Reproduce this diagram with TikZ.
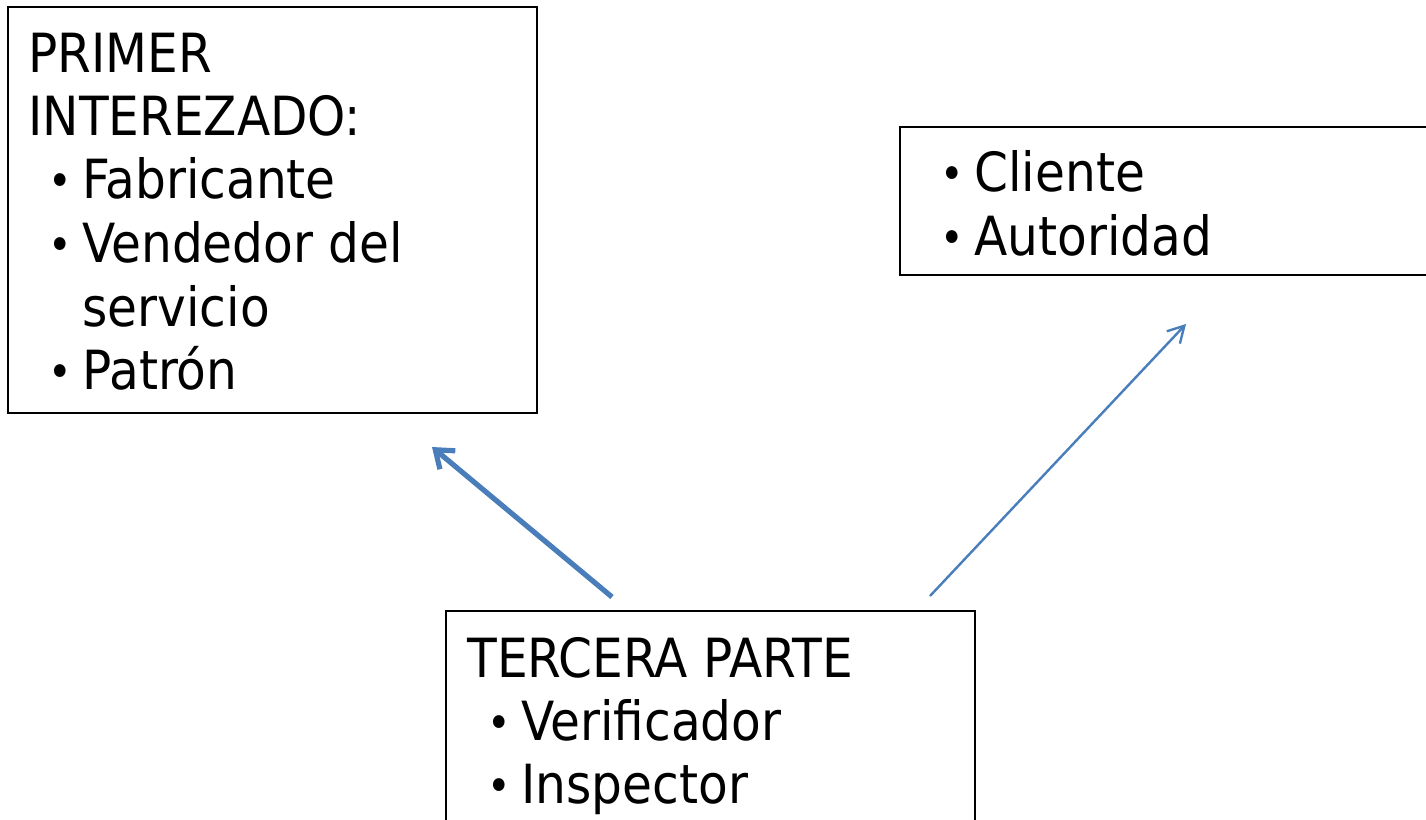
\documentclass[tikz,border=0pt]{standalone}
\usepackage{fontspec}
\usepackage{graphicx}
\setmainfont{DejaVu Sans Condensed}
\usetikzlibrary{arrows.meta}
\definecolor{arrowblue}{HTML}{4A7EBB}
\tikzset{
  box/.style={draw=black, line width=0.6pt, fill=none},
  txt/.style={anchor=base west, inner sep=0pt, font=\fontsize{27pt}{32pt}\selectfont},
  bigarrow/.style={draw=arrowblue, line width=2.6pt, -{Straight Barb[length=8pt,width=12pt]}},
  thinarrow/.style={draw=arrowblue, line width=1.2pt, -{Straight Barb[length=8pt,width=9pt]}}
}
\newcommand{\bl}{\makebox[17pt][l]{\raisebox{1pt}{\scalebox{0.82}{•}}}}
\begin{document}
\begin{tikzpicture}[x=0.5pt,y=-0.5pt]
\useasboundingbox (0,0) rectangle (1426,820);
\clip (0,0) rectangle (1426,820);
% boxes
\draw[box] (8,7) rectangle (537,413);
\node[inner sep=0pt] (b1) at (272.5,210) {};
\draw[box] (900,127) rectangle (1440,275);
\node[inner sep=0pt] (b2) at (1160,201) {};
\draw[box] (446,611) rectangle (975,840);
\node[inner sep=0pt] (b3) at (710,720) {};
% texts box 1
\node[txt] (t1) at (28,72) {PRIMER};
\node[txt] (t2) at (28,135) {INTEREZADO:};
\node[txt] (t3) at (48,198) {\bl Fabricante};
\node[txt] (t4) at (48,262) {\bl Vendedor del};
\node[txt] (t5) at (82,326) {servicio};
\node[txt] (t6) at (48,389) {\bl Patrón};
% texts box 2
\node[txt] (c1) at (940,191) {\bl Cliente};
\node[txt] (c2) at (940,255) {\bl Autoridad};
% texts box 3
\node[txt] (p1) at (467,677) {TERCERA PARTE};
\node[txt] (p2) at (487,740) {\bl Verificador};
\node[txt] (p3) at (487,803) {\bl Inspector};
% arrow end points
\coordinate (a1s) at (612,597);
\coordinate (a1e) at (432,447);
\coordinate (a2s) at (930,596);
\coordinate (a2e) at (1186,324);
\draw[bigarrow] (a1s) -- (a1e);
\draw[thinarrow] (a2s) -- (a2e);
\end{tikzpicture}
\end{document}
